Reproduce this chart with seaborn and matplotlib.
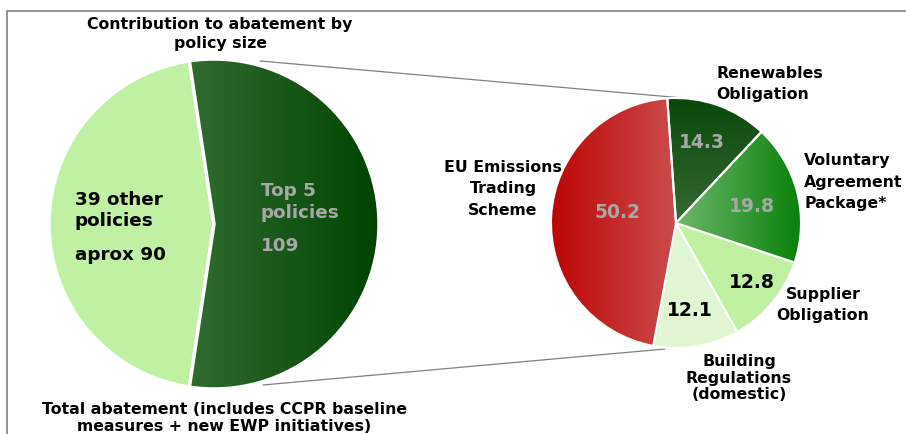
import numpy as np
import matplotlib
matplotlib.use("Agg")
import matplotlib.pyplot as plt
import seaborn as sns
from matplotlib.patches import Rectangle

# 1. DATA
# left pie: all policies split into top 5 and the rest
overview_values = [90, 109]

# right pie: the top 5 policies
policy_names = ["EU Emissions\nTrading\nScheme", "Building\nRegulations\n(domestic)",
                "Supplier\nObligation", "Voluntary\nAgreement\nPackage*",
                "Renewables\nObligation"]
policy_values = [50.2, 12.1, 12.8, 19.8, 14.3]

# 2. STYLE
sns.set_theme(style="white")
plt.rcParams["font.family"] = ["DejaVu Sans"]
plt.rcParams["text.color"] = "black"

W, H = 906, 434
fig = plt.figure(figsize=(W / 100, H / 100), dpi=100)
ax = fig.add_axes([0, 0, 1, 1])


def py(y):
    # convert picture row to data y (y axis points up)
    return H - y


def fill_gradient(ax, wedge, c1, c2, vertical=False):
    # paint a seaborn colour blend inside a wedge
    cmap = sns.blend_palette([c1, c2], n_colors=256, as_cmap=True)
    bb = wedge.get_path().get_extents(wedge.get_patch_transform())
    grad = np.linspace(0, 1, 256)
    img = grad[:, None] if vertical else grad[None, :]
    im = ax.imshow(img, cmap=cmap, aspect="auto", origin="lower" if not vertical else "upper",
                   extent=[bb.x0, bb.x1, bb.y0, bb.y1], zorder=1)
    im.set_clip_path(wedge)
    wedge.set_facecolor("none")
    wedge.set_zorder(2)


# 3. LEFT PIE
left_center = (214, py(224))
left_w, _ = ax.pie(overview_values, center=left_center, radius=165, startangle=98.6,
                   counterclock=True, colors=["#c0f0a2", "#2e6a2e"],
                   wedgeprops=dict(edgecolor="white", linewidth=2.5))
fill_gradient(ax, left_w[1], "#316b31", "#004400")

big = 13.2
ax.text(75, py(200), "39 other", fontsize=big, fontweight="bold", va="center")
ax.text(75, py(221), "policies", fontsize=big, fontweight="bold", va="center")
ax.text(75, py(255), "aprox " + str(overview_values[0]), fontsize=big, fontweight="bold",
        va="center")
ax.text(261, py(191), "Top 5", fontsize=big, fontweight="bold", color="#a8a8a8", va="center")
ax.text(261, py(213), "policies", fontsize=big, fontweight="bold", color="#a8a8a8", va="center")
ax.text(261, py(246), str(overview_values[1]), fontsize=big, fontweight="bold",
        color="#a8a8a8", va="center")

# 4. RIGHT PIE
right_center = (676, py(223))
right_colors = ["#c84040", "#e0f5d2", "#c0f0a2", "#3a9a3a", "#1f5a1f"]
right_w, _ = ax.pie(policy_values, center=right_center, radius=125, startangle=94,
                    counterclock=True, colors=right_colors,
                    wedgeprops=dict(edgecolor="white", linewidth=1.5))
fill_gradient(ax, right_w[0], "#bc0505", "#cc4c4c")
fill_gradient(ax, right_w[3], "#6cb86c", "#0a800a")
fill_gradient(ax, right_w[4], "#0a480a", "#356a35", vertical=True)

value_pos = [(618, 212, "#a8a8a8"), (690, 311, "black"), (752, 282, "black"),
             (752, 207, "#a8a8a8"), (702, 142, "#a8a8a8")]
for v, (x, y, c) in zip(policy_values, value_pos):
    ax.text(x, py(y), f"{v:.1f}", fontsize=13.5, fontweight="bold", color=c,
            ha="center", va="center")

# category labels
lab = 11.3
ax.text(503, py(189), policy_names[0], fontsize=lab, fontweight="bold", ha="center",
        va="center", linespacing=1.55)
ax.text(739, py(378), policy_names[1], fontsize=lab, fontweight="bold", ha="center",
        va="center", linespacing=1.15)
ax.text(823, py(305), policy_names[2], fontsize=lab, fontweight="bold", ha="center",
        va="center", linespacing=1.55)
ax.text(804, py(182), policy_names[3], fontsize=lab, fontweight="bold", ha="left",
        va="center", linespacing=1.55)
ax.text(716, py(84), policy_names[4], fontsize=lab, fontweight="bold", ha="left",
        va="center", linespacing=1.55)

# 5. CONNECTING LINES AND TITLES
ax.plot([260, 683], [py(61), py(98)], color="#808080", lw=0.9, zorder=0)
ax.plot([263, 665], [py(385), py(349)], color="#808080", lw=0.9, zorder=0)

ax.text(220, py(34), "Contribution to abatement by\npolicy size", fontsize=11.3,
        fontweight="bold", ha="center", va="center", linespacing=1.4)
ax.text(224, py(418), "Total abatement (includes CCPR baseline\nmeasures + new EWP initiatives)",
        fontsize=11.3, fontweight="bold", ha="center", va="center", linespacing=1.1)

# outer frame, running off the right and bottom edges
ax.add_patch(Rectangle((7, py(600)), 1200, 589, fill=False, edgecolor="#808080", lw=1.2,
                       zorder=0))

ax.set_xlim(0, W)
ax.set_ylim(0, H)
ax.set_aspect("equal")
ax.axis("off")

plt.savefig("out.png", dpi=100)
